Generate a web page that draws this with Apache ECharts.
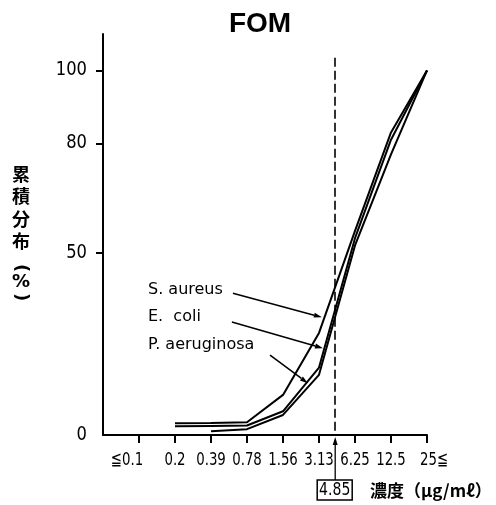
<!DOCTYPE html>
<html>
<head>
<meta charset="utf-8">
<script src="https://cdn.jsdelivr.net/npm/echarts@6/dist/echarts.min.js"></script>
<style>
html,body{margin:0;padding:0;background:#fff;}
#chart{width:496px;height:505px;}
</style>
</head>
<body>
<div id="chart"></div>
<script>
// ---- data ----
const categories = ['≦0.1', '0.2', '0.39', '0.78', '1.56', '3.13', '6.25', '12.5', '25≦'];
const sAureus     = [null, 3.2, 3.3, 3.5, 11, 28, 56, 83, 100];
const eColi       = [null, 2.4, 2.5, 2.6, 6.5, 18.5, 54, 81, 100];
const pAeruginosa = [null, null, 1.0, 1.6, 5.5, 16.5, 52, 77, 100];
const seriesNames = ['S. aureus', 'E.  coli', 'P. aeruginosa'];
const yTickValues = [0, 50, 80, 100];
const micValue = '4.85';
const micIndex = 5.45;        // position of 4.85 between 3.13 and 6.25
const titleText = 'FOM';
const yName = ['累', '積', '分', '布'];
const xName = '濃度（μg/mℓ）';

// annotation anchors (data coordinates: [category index, %])
const labelAnchors = [[0.25, 39.7], [0.25, 32.3], [0.25, 24.7]];
const arrowAnchors = [
  [[2.61, 38.9], [5.08, 32.3]],
  [[2.58, 31.0], [5.11, 23.8]],
  [[3.64, 21.9], [4.69, 14.2]]
];

const toPairs = arr => arr.map((v, i) => v == null ? null : [i, v]).filter(p => p);
const numFont = "'DejaVu Sans', sans-serif";

const chart = echarts.init(document.getElementById('chart'), null, {renderer: 'canvas'});

const lineSeries = [sAureus, eColi, pAeruginosa].map((arr, k) => ({
  type: 'line',
  name: seriesNames[k],
  data: toPairs(arr),
  showSymbol: false,
  symbol: 'none',
  lineStyle: {color: '#000', width: 2},
  z: 3,
  markLine: k === 0 ? {
    silent: true,
    symbol: ['none', 'none'],
    label: {show: false},
    lineStyle: {color: '#000', width: 1.6, type: [9, 4]},
    data: [[{coord: [micIndex, 103.5]}, {coord: [micIndex, 0]}]]
  } : undefined
}));

chart.setOption({
  animation: false,
  backgroundColor: '#fff',
  grid: {left: 103, right: 69, top: 34, bottom: 70, containLabel: false},
  xAxis: {
    type: 'value',
    min: -1, max: 8, interval: 1,
    splitLine: {show: false},
    axisLine: {show: true, onZero: false, lineStyle: {color: '#000', width: 2}},
    axisTick: {show: true, length: 8, lineStyle: {color: '#000', width: 2},
      customValues: categories.map((c, i) => i)},
    axisLabel: {show: false}
  },
  yAxis: {
    type: 'value',
    min: 0, max: 110, interval: 10,
    splitLine: {show: false},
    axisLine: {show: true, onZero: false, lineStyle: {color: '#000', width: 2}},
    axisTick: {show: true, length: 7, lineStyle: {color: '#000', width: 2},
      customValues: [50, 80, 100]},
    axisLabel: {show: false}
  },
  series: lineSeries
});

// ---- overlay graphics anchored through the chart's own scales ----
const px = p => chart.convertToPixel({gridIndex: 0}, p);
const g = [];

function arrow(from, to, headLen, headW, lw) {
  const dx = to[0] - from[0], dy = to[1] - from[1];
  const L = Math.hypot(dx, dy), ux = dx / L, uy = dy / L;
  const bx = to[0] - ux * headLen, by = to[1] - uy * headLen;
  g.push({type: 'line', shape: {x1: from[0], y1: from[1], x2: bx, y2: by},
    style: {stroke: '#000', lineWidth: lw}, z: 10});
  g.push({type: 'polygon', shape: {points: [
    [to[0], to[1]],
    [bx - uy * headW / 2, by + ux * headW / 2],
    [bx + uy * headW / 2, by - ux * headW / 2]
  ]}, style: {fill: '#000'}, z: 10});
}

// x tick labels (condensed)
categories.forEach((c, i) => {
  const p = px([i, 0]);
  let dx = 0;
  if (c.startsWith('≦')) dx = -12;
  if (c.endsWith('≦')) dx = 7;
  g.push({type: 'text', x: p[0] + dx, y: p[1] + 25, scaleX: 0.74, z: 11,
    style: {text: c, fill: '#000', font: '18px ' + numFont,
      align: 'center', verticalAlign: 'middle'}});
});
// y tick labels (condensed)
yTickValues.forEach(v => {
  const p = px([-1, v]);
  g.push({type: 'text', x: p[0] - 16, y: p[1], scaleX: 0.86, z: 11,
    style: {text: String(v), fill: '#000', font: '19px ' + numFont,
      align: 'right', verticalAlign: 'middle'}});
});

// series labels + arrows
seriesNames.forEach((name, k) => {
  const p = px(labelAnchors[k]);
  g.push({type: 'text', x: p[0], y: p[1], z: 10,
    style: {text: name, fill: '#000', font: "16px 'DejaVu Sans', sans-serif",
      align: 'left', verticalAlign: 'middle'}});
  arrow(px(arrowAnchors[k][0]), px(arrowAnchors[k][1]), 8, 5, 1.5);
});

// arrow below the axis pointing to 4.85
const axisPt = px([micIndex, 0]);
const boxTop = axisPt[1] + 45;
arrow([axisPt[0], boxTop], [axisPt[0], axisPt[1] + 2], 8, 5, 1.3);
// boxed MIC value
g.push({type: 'rect', shape: {x: axisPt[0] - 18, y: boxTop, width: 35, height: 20},
  style: {fill: '#fff', stroke: '#000', lineWidth: 1.5}, z: 10});
g.push({type: 'text', x: axisPt[0] - 0.5, y: boxTop + 10.5, scaleX: 0.78, z: 11,
  style: {text: micValue, fill: '#000', font: '18px ' + numFont,
    align: 'center', verticalAlign: 'middle'}});
// x-axis name
g.push({type: 'text', x: 370, y: boxTop + 10.5, z: 11,
  style: {text: xName, fill: '#000', font: "bold 17px 'Noto Sans CJK JP', sans-serif",
    align: 'left', verticalAlign: 'middle'}});

// title
g.push({type: 'text', x: 260, y: 24, z: 11,
  style: {text: titleText, fill: '#000', font: "bold 28px 'Liberation Sans', sans-serif",
    align: 'center', verticalAlign: 'middle'}});

// vertical y-axis name
yName.forEach((ch, i) => {
  g.push({type: 'text', x: 21, y: 174 + i * 22.5, z: 11,
    style: {text: ch, fill: '#000', font: "bold 18px 'Noto Sans CJK JP', sans-serif",
      align: 'center', verticalAlign: 'middle'}});
});
g.push({type: 'text', x: 21, y: 268, rotation: -Math.PI / 2, z: 11,
  style: {text: '(', fill: '#000', font: "bold 18px 'DejaVu Sans', sans-serif",
    align: 'center', verticalAlign: 'middle'}});
g.push({type: 'text', x: 21, y: 282, z: 11,
  style: {text: '%', fill: '#000', font: "bold 18px 'DejaVu Sans', sans-serif",
    align: 'center', verticalAlign: 'middle'}});
g.push({type: 'text', x: 21, y: 297, rotation: -Math.PI / 2, z: 11,
  style: {text: ')', fill: '#000', font: "bold 18px 'DejaVu Sans', sans-serif",
    align: 'center', verticalAlign: 'middle'}});

chart.setOption({graphic: {elements: g}});
</script>
</body>
</html>
